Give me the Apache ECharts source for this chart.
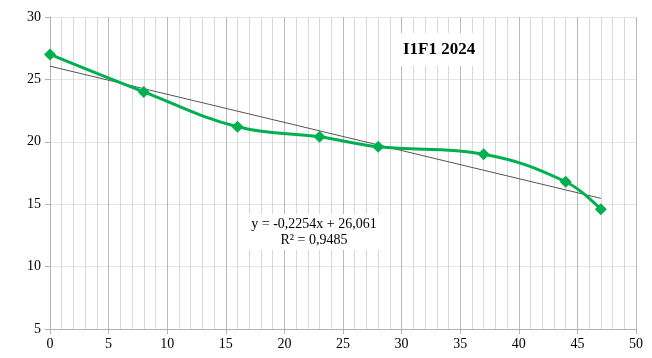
<!DOCTYPE html>
<html><head><meta charset="utf-8">
<script src="https://cdn.jsdelivr.net/npm/echarts@6/dist/echarts.min.js"></script>
<style>html,body{margin:0;padding:0;background:#fff}#c{width:652px;height:358px}</style>
</head><body><div id="c"></div>
<script>
const xValues = [0, 8, 16, 23, 28, 37, 44, 47];
const yValues = [27, 24, 21.2, 20.4, 19.6, 19.0, 16.8, 14.6];
const trendX = [0, 47];
const trendY = [26.061, 15.467];
const chartTitle = 'I1F1 2024';
const eqLines = ['y = -0,2254x + 26,061', 'R² = 0,9485'];

const chart = echarts.init(document.getElementById('c'));
const font = 'Liberation Serif, Times New Roman, serif';
chart.setOption({
  animation: false,
  backgroundColor: '#fff',
  grid: {left: 50, right: 16, top: 17, bottom: 29, containLabel: false},
  title: [
    {text: chartTitle, left: 397, top: 33, padding: [8, 6, 8, 6], backgroundColor: '#fff',
     textStyle: {fontFamily: font, fontSize: 17, fontWeight: 'bold', color: '#000'}},
    {text: '{a|' + eqLines[0] + '}\n{a|' + eqLines[1] + '}', left: 243, top: 213, padding: [3, 0, 3, 0],
     backgroundColor: '#fff',
     textStyle: {fontFamily: font, fontSize: 14, fontWeight: 'normal', color: '#000',
       rich: {a: {fontFamily: font, fontSize: 14, fontWeight: 'normal', color: '#000', lineHeight: 16, width: 142, align: 'center'}}}}
  ],
  xAxis: {
    type: 'value', min: 0, max: 50, interval: 5,
    axisLine: {show: true, lineStyle: {color: '#b3b3b3', width: 1}},
    axisTick: {show: true, length: 5, lineStyle: {color: '#b3b3b3'}},
    axisLabel: {fontFamily: font, fontSize: 14, color: '#000', margin: 8},
    splitLine: {show: true, lineStyle: {color: '#b8b8b8', width: 1}},
    minorTick: {show: false, splitNumber: 5},
    minorSplitLine: {show: true, lineStyle: {color: '#d8d8d8', width: 1}}
  },
  yAxis: {
    type: 'value', min: 5, max: 30, interval: 5,
    axisLine: {show: true, lineStyle: {color: '#b3b3b3', width: 1}},
    axisTick: {show: true, length: 5, lineStyle: {color: '#b3b3b3'}},
    axisLabel: {fontFamily: font, fontSize: 14, color: '#000', margin: 9},
    splitLine: {show: true, lineStyle: {color: '#e6e6e6', width: 1}}
  },
  series: [
    {type: 'line', data: trendX.map((x, i) => [x, trendY[i]]), symbol: 'none',
     lineStyle: {color: '#555', width: 1}, z: 2, silent: true},
    {type: 'line', data: xValues.map((x, i) => [x, yValues[i]]), smooth: 0.4,
     symbol: 'diamond', symbolSize: 12, showAllSymbol: true,
     itemStyle: {color: '#00B050', borderWidth: 0},
     lineStyle: {color: '#00B050', width: 3}, z: 3}
  ]
});
</script></body></html>
